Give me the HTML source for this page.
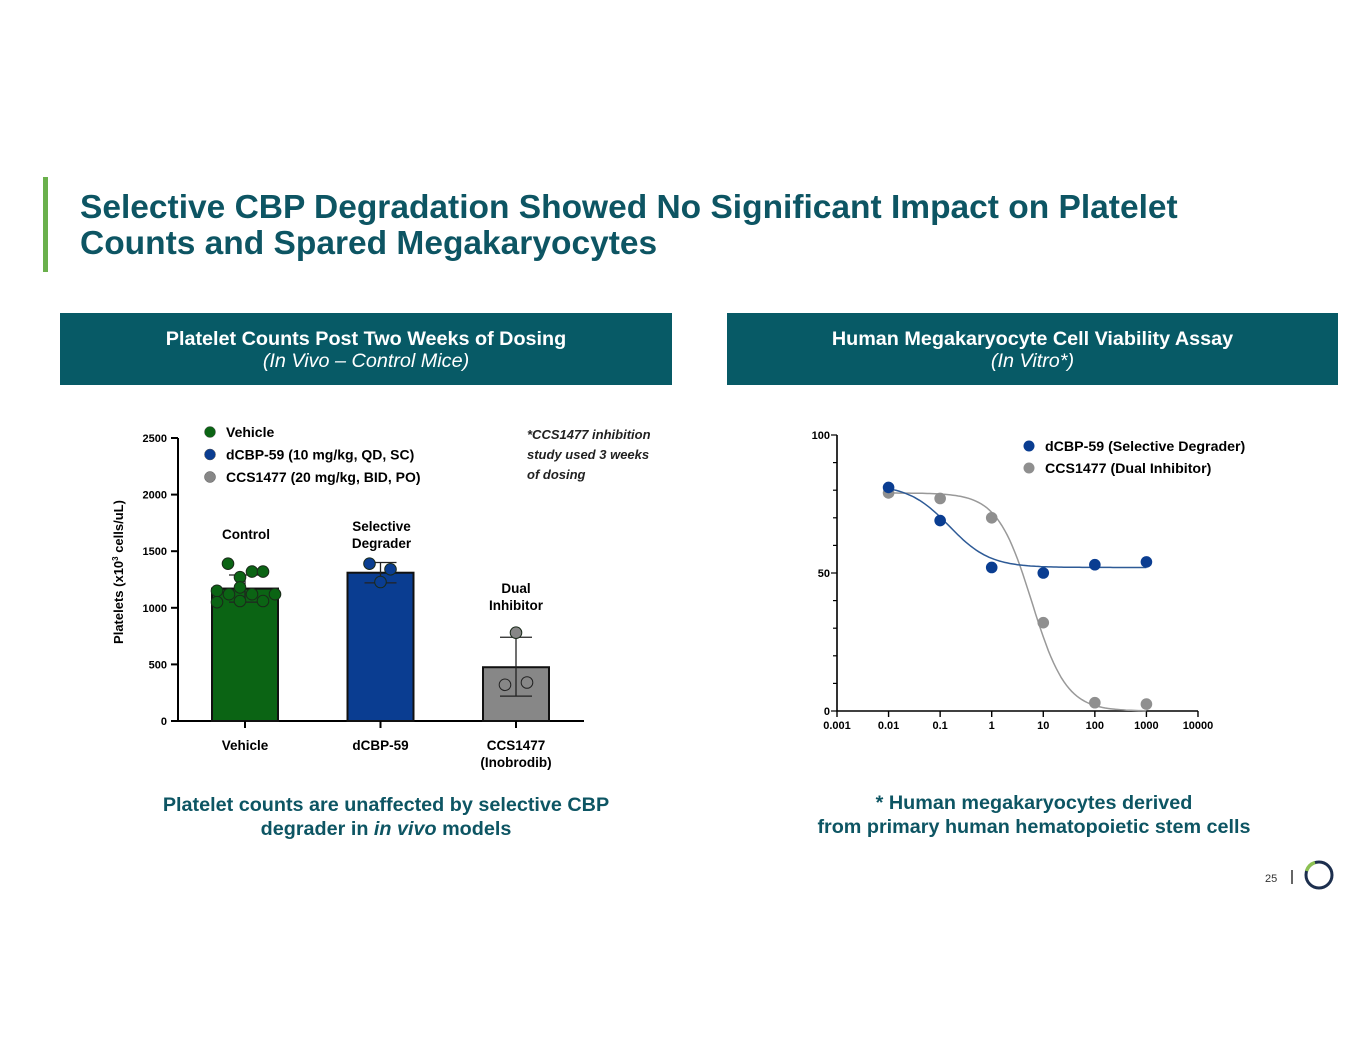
<!DOCTYPE html>
<html><head><meta charset="utf-8"><style>
body{margin:0;width:1365px;height:1055px;background:#fff;font-family:"Liberation Sans",Arial,sans-serif;position:relative;overflow:hidden}
.abs{position:absolute}
.title{left:80px;top:190px;font-size:33.5px;font-weight:bold;color:#0d5563;line-height:36px;white-space:nowrap}
.bar{left:43px;top:177px;width:5px;height:95px;background:#6ab04c}
.hdr{background:#075a66;color:#fff;text-align:center;font-size:19.8px;line-height:22px;padding-top:15px;box-sizing:border-box;height:72px;white-space:nowrap}
.cap{color:#0d5563;font-weight:bold;font-size:19.8px;text-align:center;line-height:24px;white-space:nowrap}
svg text{font-family:"Liberation Sans",Arial,sans-serif;font-weight:bold}
</style></head><body>
<div class="abs bar"></div>
<div class="abs title">Selective CBP Degradation Showed No Significant Impact on Platelet<br>Counts and Spared Megakaryocytes</div>
<div class="abs hdr" style="left:60px;top:313px;width:612px"><b>Platelet Counts Post Two Weeks of Dosing</b><br><i>(In Vivo – Control Mice)</i></div>
<div class="abs hdr" style="left:727px;top:313px;width:611px"><b>Human Megakaryocyte Cell Viability Assay</b><br><i>(In Vitro*)</i></div>
<svg class="abs" style="left:0;top:0" width="1365" height="1055">
<g id="left"></g><g id="right"></g>
<text x="527" y="439" font-size="13" font-style="italic" fill="#222"><tspan x="527">*CCS1477 inhibition</tspan><tspan x="527" dy="20">study used 3 weeks</tspan><tspan x="527" dy="20">of dosing</tspan></text>
<text x="1265" y="882" font-size="11" fill="#333" style="font-weight:normal">25</text>
<line x1="1292" y1="870" x2="1292" y2="884" stroke="#333" stroke-width="1.5"/>
<circle cx="1319" cy="875" r="13" fill="none" stroke="#1d2f4e" stroke-width="3"/>
<path d="M1306.5 871 A13 13 0 0 1 1315 862.5" fill="none" stroke="#8cc152" stroke-width="3.5"/>
</svg>
<div class="abs cap" style="left:86px;top:793px;width:600px">Platelet counts are unaffected by selective CBP<br>degrader in <i>in vivo</i> models</div>
<div class="abs cap" style="left:734px;top:791px;width:600px">* Human megakaryocytes derived<br>from primary human hematopoietic stem cells</div>
<script>
// left chart data
const groups=["Vehicle","dCBP-59","CCS1477"];
const means=[1170,1310,475];
const errLo=[1050,1220,220];
const errHi=[1290,1400,740];
const dots=[[1390,1270,1320,1320,1150,1120,1180,1120,1060,1120,1050,1060],[1390,1340,1228],[780,320,340]];
const yTicks=[0,500,1000,1500,2000,2500];
// right chart data
const conc=[0.01,0.1,1,10,100,1000];
const dcbp=[81,69,52,50,53,54];
const ccs=[79,77,70,32,3,2.5];
const xTicks=[0.001,0.01,0.1,1,10,100,1000,10000];
const xTickLabels=["0.001","0.01","0.1","1","10","100","1000","10000"];
const rTicks=[0,50,100];
const dcbpFit=[82,52,0.15,1.1]; // top,bottom,ic50,hill
const ccsFit=[79,0,6,1.3];
// horizontal jitter (layout only)
const jitter=[[-17,-5,7,18,-28,-16,-5,7,18,30,-28,-5],[-11,10,0],[0,-11,11]];
const hollow=[[],[],[1,2]];
const NS="http://www.w3.org/2000/svg";
function mk(p,t,a){const e=document.createElementNS(NS,t);for(const k in a)e.setAttribute(k,a[k]);p.appendChild(e);return e}
const L=document.getElementById('left');
const ly=v=>721-v*(721-438)/2500;
const lx=i=>245+i*135.5;
const fills=["#0b6414","#0a3d91","#878787"];
let ax=mk(L,'path',{d:'M178 438 V721 H584',stroke:'#000','stroke-width':2,fill:'none'});

yTicks.forEach(v=>{mk(L,'line',{x1:171,x2:178,y1:ly(v),y2:ly(v),stroke:'#000','stroke-width':2});
 const t=mk(L,'text',{x:167,y:ly(v)+4,'font-size':11,'text-anchor':'end'});t.textContent=v;
 });
const yt=mk(L,'text',{transform:'translate(123 572) rotate(-90)','font-size':13,'text-anchor':'middle'});
yt.innerHTML='Platelets (x10<tspan font-size="8" dy="-5">3</tspan><tspan dy="5"> cells/uL)</tspan>';

const xl=[["Vehicle"],["dCBP-59"],["CCS1477","(Inobrodib)"]];
const ann=[["Control"],["Selective","Degrader"],["Dual","Inhibitor"]];
const annY=[539,531,593];
groups.forEach((g,i)=>{const c=lx(i);
 const r=mk(L,'rect',{x:c-33,y:ly(means[i]),width:66,height:721-ly(means[i]),fill:fills[i],stroke:'#111','stroke-width':2});
 
 mk(L,'line',{x1:c,x2:c,y1:ly(errHi[i]),y2:ly(errLo[i]),stroke:'#222','stroke-width':1.3});
 [errHi[i],errLo[i]].forEach(v=>mk(L,'line',{x1:c-16,x2:c+16,y1:ly(v),y2:ly(v),stroke:'#222','stroke-width':1.3}));
 mk(L,'line',{x1:c,x2:c,y1:721,y2:728,stroke:'#000','stroke-width':2});
 xl[i].forEach((s,j)=>{const t=mk(L,'text',{x:c,y:750+j*17,'font-size':13.5,'text-anchor':'middle'});t.textContent=s;
  });
 ann[i].forEach((s,j)=>{const t=mk(L,'text',{x:c+(i==2?0:1),y:annY[i]+j*17,'font-size':13.5,'text-anchor':'middle'});t.textContent=s;
  });
 dots[i].forEach((v,k)=>{const h=hollow[i].includes(k);
  const d=mk(L,'circle',{cx:c+jitter[i][k],cy:ly(v),r:5.8,fill:h?'none':fills[i],stroke:h?'#222':'#1a2a1a','stroke-width':1});
  });
});
const legL=["Vehicle","dCBP-59 (10 mg/kg, QD, SC)","CCS1477 (20 mg/kg, BID, PO)"];
legL.forEach((s,i)=>{mk(L,'circle',{cx:210,cy:432+i*22.5,r:5.5,fill:fills[i],stroke:'#555','stroke-width':.5});
 const t=mk(L,'text',{x:226,y:437+i*22.5,'font-size':14});t.textContent=s;
 });
// right chart
const R=document.getElementById('right');
const rx=v=>837+(Math.log10(v)+3)*51.57;
const ry=v=>711-v*2.76;
const ra=mk(R,'path',{d:'M837 435 V711 H1198',stroke:'#000','stroke-width':1.6,fill:'none'});

for(let v=0;v<=100;v+=10)mk(R,'line',{x1:v%50?833:831,x2:837,y1:ry(v),y2:ry(v),stroke:'#000','stroke-width':1.2});
rTicks.forEach(v=>{const t=mk(R,'text',{x:830,y:ry(v)+4,'font-size':11,'text-anchor':'end'});t.textContent=v;
 });
xTicks.forEach((v,i)=>{mk(R,'line',{x1:rx(v),x2:rx(v),y1:711,y2:717,stroke:'#000','stroke-width':1.4});
 const t=mk(R,'text',{x:rx(v),y:729,'font-size':11,'text-anchor':'middle'});t.textContent=xTickLabels[i];
 });
function curve(p,col,name){let d='';for(let l=-2;l<=3.001;l+=0.05){const x=Math.pow(10,l);
 const y=p[1]+(p[0]-p[1])/(1+Math.pow(x/p[2],p[3]));d+=(d?'L':'M')+rx(x).toFixed(1)+' '+ry(y).toFixed(1);}
 const e=mk(R,'path',{d:d,fill:'none',stroke:col,'stroke-width':1.5});}
curve(ccsFit,'#999','ccs-fit-curve');curve(dcbpFit,'#2d5a96','dcbp-fit-curve');
[[ccs,'#8f8f8f'],[dcbp,'#0a3d91']].forEach(([s,col])=>s.forEach((v,i)=>{
 const d=mk(R,'circle',{cx:rx(conc[i]),cy:ry(v),r:5.8,fill:col});}));
[["dCBP-59 (Selective Degrader)",'#0a3d91'],["CCS1477 (Dual Inhibitor)",'#8f8f8f']].forEach(([s,col],i)=>{
 mk(R,'circle',{cx:1029,cy:446+i*22,r:5.5,fill:col});
 const t=mk(R,'text',{x:1045,y:451+i*22,'font-size':14.2});t.textContent=s;
 });
</script>
</body></html>
